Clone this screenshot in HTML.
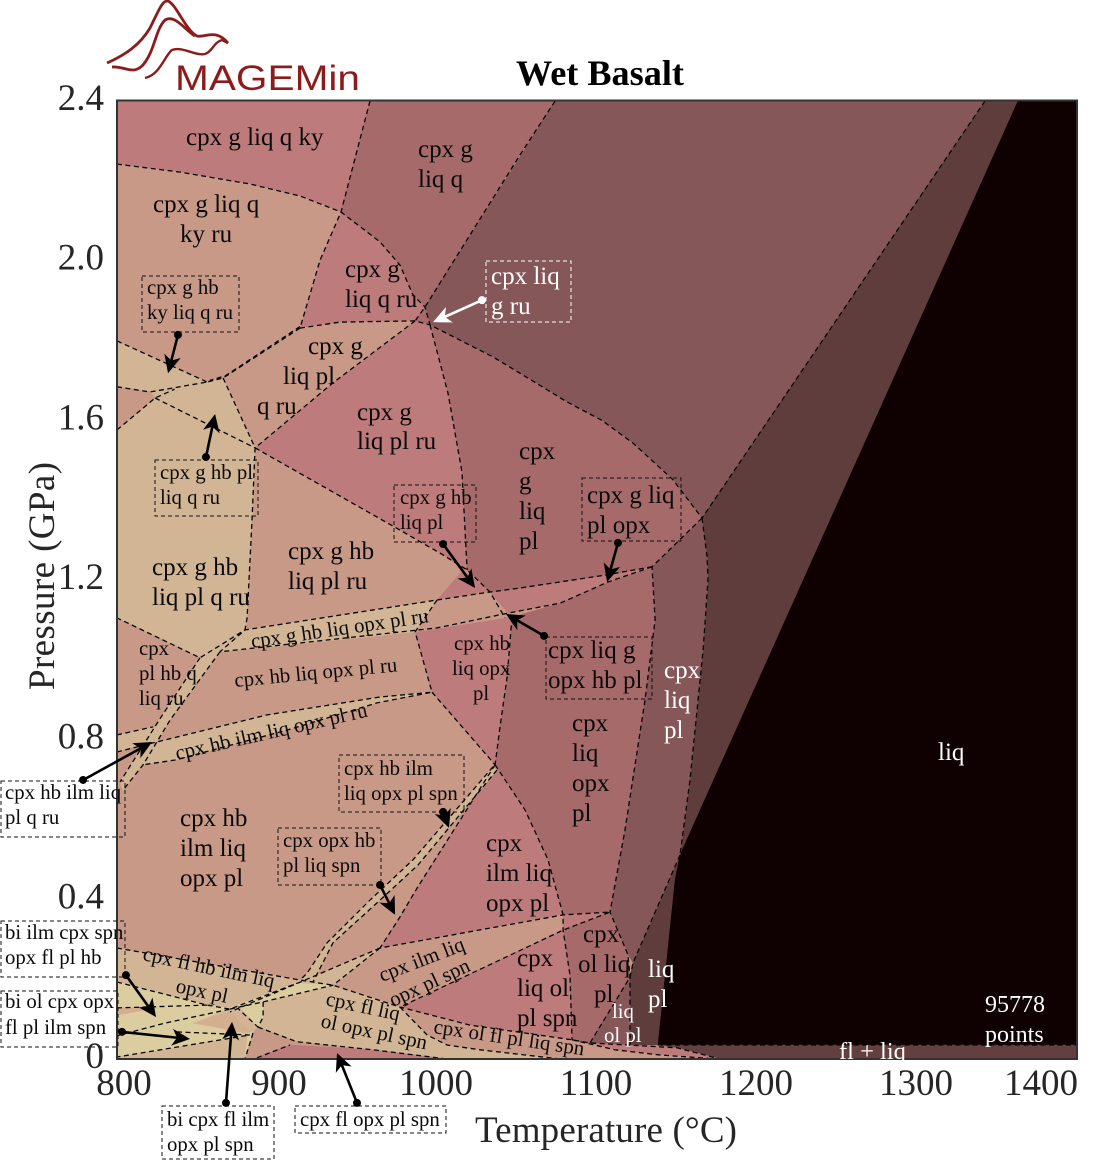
<!DOCTYPE html>
<html lang="en">
<head>
<meta charset="utf-8">
<title>Wet Basalt phase diagram</title>
<style>
html,body{margin:0;padding:0;background:#fff;}
svg{display:block;}
text{font-family:"Liberation Serif",serif;fill:#0a0a0a;}
.l{font-size:25px;}
.m{font-size:20.8px;}
.w{fill:#fff;}
.tick{font-size:37px;fill:#262626;}
.box{fill:none;stroke:#111;stroke-width:1;stroke-dasharray:4 3;shape-rendering:crispEdges;}
.boxw{fill:none;stroke:#fff;stroke-width:1;stroke-dasharray:4 3;shape-rendering:crispEdges;}
</style>
</head>
<body>
<svg id="chart" width="1094" height="1160" viewBox="0 0 1094 1160" xmlns="http://www.w3.org/2000/svg">
<g>
<path d="M107,63 C125,55 140,45 150,28 C158,12 162,1 167,1 C175,1 185,30 197,36 C205,38 215,28 228,43" fill="none" stroke="#8c1c1c" stroke-width="2.8"/>
<path d="M112,67 C125,66 132,75 142,66 C155,52 155,30 165,20 C175,14 185,30 195,36" fill="none" stroke="#8c1c1c" stroke-width="2.8"/>
<path d="M145,78 C160,75 165,55 172,50 C182,46 195,56 205,54 C212,52 214,42 222,40 L228,43" fill="none" stroke="#8c1c1c" stroke-width="2.4"/>
<text x="175" y="90" textLength="185" lengthAdjust="spacingAndGlyphs" style="font-family:'Liberation Sans',sans-serif;font-size:35px;fill:#8c1c1c;">MAGEMin</text>
</g>
<text x="516" y="85" textLength="168" lengthAdjust="spacingAndGlyphs" style="font-size:36px;font-weight:bold;fill:#000;">Wet Basalt</text>
<g id="fields"></g>
<g id="boundaries"></g>
<rect x="117" y="100.5" width="960" height="958.5" fill="none" stroke="#333" stroke-width="2"/>
<g id="ticks"></g>
<text class="tick" transform="translate(54,576) rotate(-90)" text-anchor="middle" textLength="228">Pressure (GPa)</text>
<text class="tick" x="475" y="1142" textLength="262">Temperature (°C)</text>

<g>
<text class="l" x="186" y="145">cpx g liq q ky</text>
<text class="l"><tspan x="153" y="212">cpx g liq q</tspan><tspan x="180" y="242">ky ru</tspan></text>
<text class="l"><tspan x="418" y="157">cpx g</tspan><tspan x="418" y="187">liq q</tspan></text>
<text class="l"><tspan x="345" y="277">cpx g</tspan><tspan x="345" y="307">liq q ru</tspan></text>
<text class="l"><tspan x="308" y="354">cpx g</tspan><tspan x="283" y="384">liq pl</tspan><tspan x="257" y="414">q ru</tspan></text>
<text class="l"><tspan x="357" y="420">cpx g</tspan><tspan x="357" y="449">liq pl ru</tspan></text>
<text class="l"><tspan x="519" y="459">cpx</tspan><tspan x="519" y="489">g</tspan><tspan x="519" y="519">liq</tspan><tspan x="519" y="549">pl</tspan></text>
<text class="l"><tspan x="152" y="575">cpx g hb</tspan><tspan x="152" y="605">liq pl q ru</tspan></text>
<text class="l"><tspan x="288" y="559">cpx g hb</tspan><tspan x="288" y="589">liq pl ru</tspan></text>
<text class="m"><tspan x="139" y="655">cpx</tspan><tspan x="139" y="680">pl hb q</tspan><tspan x="139" y="705">liq ru</tspan></text>
<text class="m" transform="translate(252,648) rotate(-8.3)">cpx g hb liq opx pl ru</text>
<text class="m" transform="translate(235,687) rotate(-5.5)">cpx hb liq opx pl ru</text>
<text class="m" transform="translate(177,760) rotate(-12.8)">cpx hb ilm liq opx pl ru</text>
<text class="m"><tspan x="454" y="650">cpx hb</tspan><tspan x="452" y="675">liq opx</tspan><tspan x="473" y="700">pl</tspan></text>
<text class="l"><tspan x="572" y="731">cpx</tspan><tspan x="572" y="761">liq</tspan><tspan x="572" y="791">opx</tspan><tspan x="572" y="821">pl</tspan></text>
<text class="l w"><tspan x="664" y="678">cpx</tspan><tspan x="664" y="708">liq</tspan><tspan x="664" y="738">pl</tspan></text>
<text class="l w" x="938" y="760">liq</text>
<text class="l"><tspan x="180" y="826">cpx hb</tspan><tspan x="180" y="856">ilm liq</tspan><tspan x="180" y="886">opx pl</tspan></text>
<text class="l"><tspan x="486" y="851">cpx</tspan><tspan x="486" y="881">ilm liq</tspan><tspan x="486" y="911">opx pl</tspan></text>
<text class="l"><tspan x="583" y="942">cpx</tspan><tspan x="578" y="972">ol liq</tspan><tspan x="594" y="1002">pl</tspan></text>
<text class="l"><tspan x="517" y="966">cpx</tspan><tspan x="517" y="996">liq ol</tspan><tspan x="517" y="1026">pl spn</tspan></text>
<text class="l w"><tspan x="648" y="977">liq</tspan><tspan x="648" y="1007">pl</tspan></text>
<text class="m w"><tspan x="612" y="1018">liq</tspan><tspan x="604" y="1042">ol pl</tspan></text>
<text class="m" transform="translate(382,982) rotate(-21)">cpx ilm liq</text>
<text class="m" transform="translate(393,1007) rotate(-25)">opx pl spn</text>
<text class="m" transform="translate(142,960) rotate(12)">cpx fl hb ilm liq</text>
<text class="m" transform="translate(175,992) rotate(12)">opx pl</text>
<text class="m" transform="translate(325,1005) rotate(12)">cpx fl liq</text>
<text class="m" transform="translate(320,1027) rotate(12)">ol opx pl spn</text>
<text class="m" transform="translate(433,1033) rotate(8.5)">cpx ol fl pl liq spn</text>
<text class="l w" x="839" y="1059" style="font-size:24.5px;">fl + liq</text>
<text class="l w" style="font-size:24px;"><tspan x="985" y="1012">95778</tspan><tspan x="985" y="1042">points</tspan></text>
</g>

<g>
<g><rect class="box" x="142" y="276" width="97" height="56"/><text class="m"><tspan x="147" y="294">cpx g hb</tspan><tspan x="147" y="319">ky liq q ru</tspan></text></g>
<g><rect class="boxw" x="486" y="261" width="85" height="61"/><text class="w" style="font-size:25px;"><tspan x="491" y="284">cpx liq</tspan><tspan x="491" y="314">g ru</tspan></text></g>
<g><rect class="box" x="155" y="460" width="103" height="56"/><text class="m"><tspan x="160" y="479">cpx g hb pl</tspan><tspan x="160" y="504">liq q ru</tspan></text></g>
<g><rect class="box" x="394" y="485" width="82" height="57"/><text class="m"><tspan x="400" y="504">cpx g hb</tspan><tspan x="400" y="529">liq pl</tspan></text></g>
<g><rect class="box" x="582" y="478" width="99" height="63"/><text class="l"><tspan x="587" y="503">cpx g liq</tspan><tspan x="587" y="533">pl opx</tspan></text></g>
<g><rect class="box" x="546" y="637" width="106" height="62"/><text style="font-size:25px;"><tspan x="548" y="658">cpx liq g</tspan><tspan x="548" y="688">opx hb pl</tspan></text></g>
<g><rect class="box" x="339" y="755" width="125" height="57"/><text class="m"><tspan x="344" y="775">cpx hb ilm</tspan><tspan x="344" y="800">liq opx pl spn</tspan></text></g>
<g><rect class="box" x="278" y="828" width="103" height="57"/><text class="m"><tspan x="283" y="847">cpx opx hb</tspan><tspan x="283" y="872">pl liq spn</tspan></text></g>
<g><rect class="box" x="1" y="781" width="124" height="56"/><text class="m"><tspan x="5" y="799">cpx hb ilm liq</tspan><tspan x="5" y="824">pl q ru</tspan></text></g>
<g><rect class="box" x="1" y="921" width="124" height="56"/><text class="m"><tspan x="5" y="939">bi ilm cpx spn</tspan><tspan x="5" y="964">opx fl pl hb</tspan></text></g>
<g><rect class="box" x="1" y="991" width="117" height="56"/><text class="m"><tspan x="5" y="1008">bi ol cpx opx</tspan><tspan x="5" y="1034">fl pl ilm spn</tspan></text></g>
<g><rect class="box" x="162" y="1106" width="112" height="53"/><text class="m"><tspan x="167" y="1126">bi cpx fl ilm</tspan><tspan x="167" y="1151">opx pl spn</tspan></text></g>
<g><rect class="box" x="295" y="1106" width="151" height="27"/><text class="m" x="300" y="1126">cpx fl opx pl spn</text></g>
</g>
<g id="arrows"></g>
</svg>
<script>
// Axis tick values and labels
const tempTicks = [800, 900, 1000, 1100, 1200, 1300, 1400];
const tempLabels = ['800', '900', '1000', '1100', '1200', '1300', '1400'];
const pressTicks = [0, 0.4, 0.8, 1.2, 1.6, 2.0, 2.4];
const pressLabels = ['0', '0.4', '0.8', '1.2', '1.6', '2.0', '2.4'];

// Phase fields: [temperature in C, pressure in GPa] vertices
const fieldCpxGLiqQKy = [[800,2.4],[958.1,2.4],[940,2.122],[914.4,2.162],[883.1,2.192],[839.4,2.222],[800,2.242]];
const fieldCpxGLiqQ = [[958.1,2.4],[1073.8,2.4],[1051.9,2.265],[992.5,1.884],[985,1.914],[976.9,1.989],[964.4,2.047],[940,2.122]];
const fieldCpxGLiq = [[1073.8,2.4],[1342.5,2.4],[1165.6,1.355],[1147.5,1.451],[1122.5,1.543],[1103,1.6],[1081.3,1.646],[1058,1.703],[1035,1.759],[995.6,1.839],[992.5,1.884]];
const fieldCpxLiq = [[1342.5,2.4],[1363.1,2.4],[1151.9,0.511],[1148.8,0.449],[1138.1,0.035],[1120.6,0.035],[1120.6,0.205],[1122.5,0.241],[1151.9,0.511],[1158.1,0.699],[1166.3,1.025],[1169.4,1.2],[1168.8,1.258],[1165.6,1.355]];
const fieldLiq = [[1363.1,2.4],[1400,2.4],[1400,0.035],[1138.1,0.035],[1148.8,0.449],[1151.9,0.511]];
const fieldFlLiq = [[1138.1,0.035],[1400,0.035],[1400,0],[1176.9,0],[1150,0.028]];
const fieldCpxLiqPl = [[1165.6,1.355],[1168.8,1.258],[1169.4,1.2],[1166.3,1.025],[1158.1,0.699],[1151.9,0.511],[1122.5,0.241],[1119.4,0.261],[1108.1,0.368],[1117.5,0.574],[1130,0.899],[1136.3,1.1],[1134.4,1.233]];
const fieldCpxLiqOpxPl = [[1036.3,0.737],[1039.4,0.832],[1043.8,0.957],[1046.9,1.107],[1076.9,1.142],[1106.9,1.195],[1134.4,1.233],[1136.3,1.1],[1130,0.899],[1117.5,0.574],[1108.1,0.368],[1078.8,0.361],[1069.4,0.499],[1055,0.624]];
const fieldCpxIlmLiqOpxPl = [[1036.3,0.737],[1055,0.624],[1069.4,0.499],[1078.8,0.361],[964.4,0.278],[976.9,0.356],[987.5,0.428]];
const fieldCpxIlmLiqOpxPlSpn = [[935,0.185],[964.4,0.278],[1078.8,0.361],[1078.8,0.323],[976.9,0.13]];
const fieldWedgeOpxLiq = [[1078.8,0.361],[1108.1,0.368],[1078.8,0.323]];
const fieldCpxLiqOlPlSpn = [[976.9,0.13],[1078.8,0.323],[1083.1,0.21],[1084.4,0.048],[1020.6,0.085]];
const fieldCpxOlLiqPl = [[1078.8,0.323],[1108.1,0.368],[1119.4,0.261],[1120.6,0.205],[1095.6,0.04],[1084.4,0.048],[1083.1,0.21]];
const fieldLiqOlPl = [[1120.6,0.205],[1095.6,0.04],[1120.6,0.035]];
const fieldOlPlLens = [[1084.4,0.048],[1095.6,0.04],[1118.8,0.035],[1150,0.028],[1176.9,0],[1139.4,0.01],[1111.3,0.023]];
const fieldCpxOlFlPlLiqSpn = [[976.9,0.13],[1020.6,0.085],[1084.4,0.048],[1111.3,0.023],[1139.4,0.01],[1175,0],[1076.9,0],[1026.9,0.023],[1006.3,0.035],[993.8,0.06]];
const fieldCpxHbLiqOpxPl = [[986.3,1.07],[1042.5,1.105],[1046.9,1.107],[1043.8,0.957],[1039.4,0.832],[1036.3,0.737],[996.9,0.919]];
const fieldCpxGLiqPlOpx = [[1033.1,1.17],[1051.9,1.18],[1106.3,1.213],[1134.4,1.233],[1106.9,1.195],[1076.9,1.142],[1044.4,1.117]];
const fieldCpxGLiqPl = [[995.6,1.839],[1035,1.759],[1058,1.703],[1081.3,1.646],[1103,1.6],[1122.5,1.543],[1147.5,1.451],[1165.6,1.355],[1134.4,1.233],[1106.3,1.213],[1051.9,1.18],[1033.1,1.17],[1018.8,1.225],[1015.6,1.47],[1006.9,1.668]];
const fieldCpxLiqGRu = [[992.5,1.884],[995.6,1.839],[986.3,1.849]];
const fieldCpxGLiqPlRu = [[986.3,1.849],[995.6,1.839],[1006.9,1.668],[1015.6,1.47],[1018.8,1.225],[1016.3,1.225],[1003.8,1.263],[976.9,1.325],[886.3,1.531],[935,1.694]];
const fieldCpxGLiqQRu = [[940,2.122],[964.4,2.047],[976.9,1.989],[985,1.914],[992.5,1.884],[986.3,1.849],[939.4,1.846],[914.4,1.831],[926.9,2.001]];
const fieldCpxGLiqQKyRu = [[800,2.242],[839.4,2.222],[883.1,2.192],[914.4,2.162],[940,2.122],[926.9,2.001],[914.4,1.831],[866.3,1.706],[856.3,1.696],[800,1.799]];
const fieldCpxGLiqPlQRu = [[914.4,1.831],[939.4,1.846],[986.3,1.849],[935,1.694],[886.3,1.531],[865.6,1.701]];
const fieldCpxGHbLiqPlRu = [[886.3,1.531],[976.9,1.325],[1003.8,1.263],[1016.3,1.225],[1000,1.15],[880,1.075],[881.3,1.105],[884.4,1.35]];
const fieldCpxGHbLiqPlTri = [[1016.3,1.225],[1033.1,1.17],[1000,1.15]];
const fieldPeachRightOfBand = [[1000,1.15],[1033.1,1.17],[1042.5,1.105],[986.3,1.07]];
const fieldCpxGHbLiqOpxPlRu = [[880,1.075],[1000,1.15],[986.3,1.07],[864.4,1.02]];
const fieldCpxGHbLiqPlQRu = [[800,1.799],[856.3,1.696],[866.3,1.706],[886.3,1.531],[884.4,1.35],[881.3,1.105],[880,1.075],[864.4,1.02],[851.9,1.005],[800,1.105]];
const fieldWedgeUpperLeft = [[800,1.684],[820.6,1.671],[823.8,1.656],[800,1.576]];
const fieldCpxPlHbQLiqRu = [[800,1.105],[851.9,1.005],[822.5,0.829],[800,0.812]];
const fieldDiagonalStrip = [[851.9,1.005],[864.4,1.02],[833.1,0.849],[816.3,0.737],[803.8,0.674],[801.9,0.694],[826.3,0.849]];
const fieldLeftBand = [[800,0.812],[822.5,0.832],[820.6,0.794],[800,0.769]];
const fieldCpxHbIlmLiqOpxPlRu = [[822.5,0.792],[893.8,0.862],[964.4,0.907],[995.6,0.919],[962.5,0.892],[906.3,0.824],[836.3,0.749],[816.3,0.737]];
const fieldOpxHbStrip = [[1035,0.732],[985,0.499],[958.1,0.398],[931.3,0.291],[918.8,0.215],[914.4,0.198],[922.5,0.193],[935,0.291],[962.5,0.391],[988.1,0.486],[1037.5,0.724]];
const fieldThinSpnStrip = [[964.4,0.278],[910,0.185],[935,0.183]];
const fieldLowerTan = [[800,0.278],[914.4,0.198],[935,0.185],[976.9,0.13],[993.8,0.06],[1006.3,0.035],[1026.9,0.023],[1076.9,0],[800,0]];
const fieldBiYellow = [[800,0.193],[856.3,0.135],[870.6,0.128],[847.5,0.09],[883.1,0.06],[800,0.005]];
const fieldBiYellowStrip = [[870.6,0.128],[912.5,0.19],[935,0.185],[891.3,0.143]];
const fieldBiYellowSmall = [[876.9,0.13],[891.3,0.143],[891.3,0.105],[888.1,0.08]];
const fieldBiWedgeLeft = [[800,0.128],[825,0.128],[800,0.11]];
const fieldBiWedgeMid = [[847.5,0.09],[870.6,0.118],[883.1,0.068],[866.3,0.078]];
const fieldBiSliver = [[881.9,0.065],[885,0.065],[883.1,0],[880,0]];
const fieldBottomPeach = [[888.1,0.08],[912.5,0.043],[960,0.023],[1006.3,0],[880,0],[885,0.065]];
const fieldCpxFlOpxPlSpn = [[887.5,0.003],[908.1,0.035],[960,0.023],[1006.3,0]];

// Dashed phase boundaries: [temperature, pressure] vertices
const lineKyCurve = [[800,2.242],[839.4,2.222],[883.1,2.192],[914.4,2.162],[940,2.122],[964.4,2.047],[976.9,1.989],[985,1.914],[992.5,1.884],[995.6,1.839],[1035,1.759],[1058,1.703],[1081.3,1.646],[1103,1.6],[1122.5,1.543],[1147.5,1.451],[1165.6,1.355]];
const lineKyOut = [[958.1,2.4],[940,2.122],[926.9,2.001],[914.4,1.831]];
const lineQOut = [[1073.8,2.4],[1051.9,2.265],[992.5,1.884],[986.3,1.849]];
const lineOpxIn = [[1342.5,2.4],[1165.6,1.355]];
const linePlIn = [[914.4,1.831],[939.4,1.846],[986.3,1.849],[995.6,1.839]];
const lineKyRuLower = [[914.4,1.831],[866.3,1.706],[856.3,1.696]];
const lineKyRuUpper = [[914.4,1.835],[868,1.712],[858,1.70]];
const lineKyHb = [[800,1.799],[856.3,1.696]];
const lineHbEdge = [[866.3,1.706],[886.3,1.531],[884.4,1.35],[881.3,1.105],[880,1.075],[864.4,1.02]];
const lineWedgeTop = [[800,1.684],[820.6,1.671],[856.3,1.696]];
const lineWedgeLow = [[800,1.576],[823.8,1.656],[836,1.678]];
const lineHbPl = [[823.8,1.656],[886.3,1.531]];
const lineQRu = [[986.3,1.849],[935,1.694],[886.3,1.531]];
const lineHbOut = [[886.3,1.531],[976.9,1.325],[1003.8,1.263],[1018.8,1.225],[1033.1,1.17],[1042.5,1.105]];
const lineRuOut = [[995.6,1.839],[1006.9,1.668],[1015.6,1.47],[1018.8,1.225]];
const lineGOut = [[1165.6,1.355],[1168.8,1.258],[1169.4,1.2],[1166.3,1.025],[1158.1,0.699],[1151.9,0.511]];
const lineOpxOut = [[1165.6,1.355],[1134.4,1.233],[1136.3,1.1],[1130,0.899],[1117.5,0.574],[1108.1,0.368],[1119.4,0.261],[1120.6,0.205],[1120.6,0.035]];
const lineCpxOut = [[1151.9,0.511],[1122.5,0.241],[1120.6,0.205],[1095.6,0.04]];
const lineOpxUpper = [[1134.4,1.233],[1106.3,1.213],[1051.9,1.18],[1033.1,1.17],[1000,1.15],[880,1.075],[851.9,1.005],[800,1.105]];
const lineOpxLower = [[1134.4,1.233],[1106.9,1.195],[1076.9,1.142],[1044.4,1.117],[1000,1.08],[864.4,1.02]];
const lineBandRight = [[1000,1.15],[986.3,1.07],[996.9,0.919]];
const lineHbOutLow = [[1046.9,1.107],[1043.8,0.957],[1039.4,0.832],[1036.3,0.737]];
const lineRuIlm = [[996.9,0.919],[1036.3,0.737]];
const lineIlmHb = [[1036.3,0.737],[1055,0.624],[1069.4,0.499],[1078.8,0.361],[1078.8,0.323],[1083.1,0.21],[1084.4,0.048]];
const lineSpnIn = [[1036.3,0.737],[987.5,0.428],[976.9,0.356],[964.4,0.278],[1078.8,0.361],[1108.1,0.368],[1078.8,0.323],[976.9,0.13]];
const lineStripLeft = [[1035,0.732],[985,0.499],[958.1,0.398],[931.3,0.291],[918.8,0.215],[914.4,0.198]];
const lineStripRight = [[1037.5,0.724],[988.1,0.486],[962.5,0.391],[935,0.291],[922.5,0.193]];
const lineThinA = [[964.4,0.278],[935,0.185]];
const lineThinB = [[964.4,0.278],[910,0.185],[870.6,0.118]];
const lineLeftBandTop = [[800,0.812],[822.5,0.832]];
const lineRuBand = [[800,0.769],[822.5,0.792],[893.8,0.862],[964.4,0.907],[996.9,0.919],[962.5,0.892],[906.3,0.824],[836.3,0.749],[816.3,0.737]];
const lineDiagRight = [[864.4,1.02],[833.1,0.849],[816.3,0.737],[803.8,0.674]];
const lineDiagLeft = [[851.9,1.005],[826.3,0.849],[801.9,0.694]];
const lineFlIn = [[800,0.278],[914.4,0.198],[935,0.185],[976.9,0.13],[1020.6,0.085],[1084.4,0.048],[1095.6,0.04],[1118.8,0.035],[1150,0.028],[1176.9,0]];
const lineOlLens = [[1084.4,0.048],[1111.3,0.023],[1139.4,0.01],[1175,0]];
const lineTanEdge = [[976.9,0.13],[993.8,0.06],[1006.3,0.035],[1026.9,0.023],[1076.9,0]];
const lineFlLiqTop = [[1138.1,0.035],[1400,0.035]];
const lineBiA = [[800,0.193],[856.3,0.135],[870.6,0.125]];
const lineBiB = [[800,0.128],[856.3,0.135]];
const lineBiC = [[800,0.058],[830,0.09],[870.6,0.125],[912.5,0.19]];
const lineBiD = [[837.5,0.068],[883,0.06],[800,0.005]];
const lineBiE = [[870.6,0.125],[891.3,0.143],[935,0.185]];
const lineBiF = [[891.3,0.143],[891.3,0.105],[888.1,0.08],[876,0.125]];
const lineBiG = [[888.1,0.08],[912.5,0.043],[960,0.023],[1006.3,0],[1076.9,0]];
const lineBiH = [[885,0.065],[880,0]];
const lineBiI = [[887.5,0.003],[908.1,0.035]];

// Callout arrows anchored in data space: [T from, P from, T to, P to]
const arrowKyLiqQRu = [838.1,1.814,831.9,1.718];
const arrowCpxLiqGRu = [1028.1,1.901,997.5,1.846];
const arrowHbPlLiqQRu = [855.6,1.508,861.3,1.616];
const arrowHbLiqPl = [1003.8,1.29,1023.8,1.18];
const arrowGLiqPlOpx = [1113.1,1.293,1106.3,1.195];
const arrowLiqGOpxHbPl = [1066.9,1.06,1043.1,1.115];
const arrowHbIlmSpn = [1003.8,0.619,1007.5,0.579];
const arrowOpxHbSpn = [964.4,0.436,973.8,0.361];
const arrowHbIlmQRu = [778.8,0.699,821.9,0.794];
const arrowBiIlmHb = [805.6,0.21,824.4,0.105];
const arrowBiOlIlm = [803.1,0.068,845.6,0.05];
const arrowBiFlIlm = [868.1,-0.11,871.9,0.093];
const arrowFlOpx = [950,-0.11,937.5,0.015];

const NS = 'http://www.w3.org/2000/svg';
const PLOT_LEFT = 117, PLOT_RIGHT = 1077, PLOT_TOP = 101, PLOT_BOTTOM = 1059;
const T_MIN = 800, T_MAX = 1400, P_MIN = 0, P_MAX = 2.4;
function xScale(t) { return PLOT_LEFT + (t - T_MIN) / (T_MAX - T_MIN) * (PLOT_RIGHT - PLOT_LEFT); }
function yScale(p) { return PLOT_BOTTOM - (p - P_MIN) / (P_MAX - P_MIN) * (PLOT_BOTTOM - PLOT_TOP); }
function toPoints(verts) { return verts.map(function (v) { return xScale(v[0]).toFixed(1) + ',' + yScale(v[1]).toFixed(1); }).join(' '); }

const ROSE = '#bd7b7b', PEACH = '#c89987', DUSK = '#a56a69', MAUVE = '#865758', UMBER = '#5f3d3d', NIGHT = '#0f0002', TAN = '#d2b595', CREAM = '#dccda1';
const fieldsG = document.getElementById('fields');
const boundariesG = document.getElementById('boundaries');
const ticksG = document.getElementById('ticks');
const arrowsG = document.getElementById('arrows');

function drawField(verts, fill, name) {
  const el = document.createElementNS(NS, 'polygon');
  el.setAttribute('points', toPoints(verts));
  el.setAttribute('fill', fill);
  el.setAttribute('stroke', fill);
  el.setAttribute('stroke-width', '0.5');
  
  
  fieldsG.appendChild(el);
}
function drawBoundary(verts, name) {
  const el = document.createElementNS(NS, 'polyline');
  el.setAttribute('points', toPoints(verts));
  el.setAttribute('fill', 'none');
  el.setAttribute('stroke', '#050505');
  el.setAttribute('stroke-width', '1.3');
  el.setAttribute('stroke-dasharray', '5 3.5');
  
  
  boundariesG.appendChild(el);
}
function drawArrow(a, color, name) {
  const x1 = xScale(a[0]), y1 = yScale(a[1]), x2 = xScale(a[2]), y2 = yScale(a[3]);
  const d = Math.hypot(x2 - x1, y2 - y1), ux = (x2 - x1) / d, uy = (y2 - y1) / d;
  const g = document.createElementNS(NS, 'g');
  
  
  const line = document.createElementNS(NS, 'line');
  line.setAttribute('x1', x1);
  line.setAttribute('y1', y1);
  line.setAttribute('x2', x2 - ux * 10);
  line.setAttribute('y2', y2 - uy * 10);
  line.setAttribute('stroke', color);
  line.setAttribute('stroke-width', '2.6');
  g.appendChild(line);
  const dot = document.createElementNS(NS, 'circle');
  dot.setAttribute('cx', x1);
  dot.setAttribute('cy', y1);
  dot.setAttribute('r', '4');
  dot.setAttribute('fill', color);
  g.appendChild(dot);
  const head = document.createElementNS(NS, 'polygon');
  const bx = x2 - ux * 18, by = y2 - uy * 18, nx = x2 - ux * 13, ny = y2 - uy * 13;
  head.setAttribute('points', x2 + ',' + y2 + ' ' + (bx - uy * 8.5) + ',' + (by + ux * 8.5) + ' ' + nx + ',' + ny + ' ' + (bx + uy * 8.5) + ',' + (by - ux * 8.5));
  head.setAttribute('fill', color);
  g.appendChild(head);
  arrowsG.appendChild(g);
}

// Background field then phase fields in painter's order
const plotBackground = [[T_MIN,P_MAX],[T_MAX,P_MAX],[T_MAX,P_MIN],[T_MIN,P_MIN]];
drawField(plotBackground, PEACH, 'field-background');
drawField(fieldCpxGLiqQKy, ROSE, 'field-cpx-g-liq-q-ky');
drawField(fieldCpxGLiqQ, DUSK, 'field-cpx-g-liq-q');
drawField(fieldCpxGLiq, MAUVE, 'field-cpx-g-liq');
drawField(fieldCpxLiq, UMBER, 'field-cpx-liq');
drawField(fieldLiq, NIGHT, 'field-liq');
drawField(fieldFlLiq, '#63403f', 'field-fl-liq');
drawField(fieldCpxLiqPl, MAUVE, 'field-cpx-liq-pl');
drawField(fieldCpxLiqOpxPl, DUSK, 'field-cpx-liq-opx-pl');
drawField(fieldCpxIlmLiqOpxPl, ROSE, 'field-cpx-ilm-liq-opx-pl');
drawField(fieldCpxIlmLiqOpxPlSpn, PEACH, 'field-cpx-ilm-liq-opx-pl-spn');
drawField(fieldWedgeOpxLiq, ROSE, 'field-wedge-opx-liq');
drawField(fieldCpxLiqOlPlSpn, ROSE, 'field-cpx-liq-ol-pl-spn');
drawField(fieldCpxOlLiqPl, DUSK, 'field-cpx-ol-liq-pl');
drawField(fieldLiqOlPl, MAUVE, 'field-liq-ol-pl');
drawField(fieldOlPlLens, ROSE, 'field-ol-pl-lens');
drawField(fieldCpxOlFlPlLiqSpn, PEACH, 'field-cpx-ol-fl-pl-liq-spn');
drawField(fieldCpxHbLiqOpxPl, ROSE, 'field-cpx-hb-liq-opx-pl');
drawField(fieldCpxGLiqPlOpx, ROSE, 'field-cpx-g-liq-pl-opx');
drawField(fieldCpxGLiqPl, DUSK, 'field-cpx-g-liq-pl');
drawField(fieldCpxLiqGRu, DUSK, 'field-cpx-liq-g-ru');
drawField(fieldCpxGLiqPlRu, ROSE, 'field-cpx-g-liq-pl-ru');
drawField(fieldCpxGLiqQRu, ROSE, 'field-cpx-g-liq-q-ru');
drawField(fieldCpxGLiqQKyRu, PEACH, 'field-cpx-g-liq-q-ky-ru');
drawField(fieldCpxGLiqPlQRu, PEACH, 'field-cpx-g-liq-pl-q-ru');
drawField(fieldCpxGHbLiqPlRu, PEACH, 'field-cpx-g-hb-liq-pl-ru');
drawField(fieldCpxGHbLiqPlTri, ROSE, 'field-cpx-g-hb-liq-pl');
drawField(fieldPeachRightOfBand, PEACH, 'field-cpx-hb-liq-opx-pl-upper');
drawField(fieldCpxGHbLiqOpxPlRu, TAN, 'field-cpx-g-hb-liq-opx-pl-ru');
drawField(fieldCpxGHbLiqPlQRu, TAN, 'field-cpx-g-hb-liq-pl-q-ru');
drawField(fieldWedgeUpperLeft, PEACH, 'field-wedge-upper-left');
drawField(fieldCpxPlHbQLiqRu, PEACH, 'field-cpx-pl-hb-q-liq-ru');
drawField(fieldDiagonalStrip, TAN, 'field-cpx-hb-ilm-liq-pl-q-ru');
drawField(fieldLeftBand, TAN, 'field-left-band');
drawField(fieldCpxHbIlmLiqOpxPlRu, TAN, 'field-cpx-hb-ilm-liq-opx-pl-ru');
drawField(fieldOpxHbStrip, TAN, 'field-cpx-hb-ilm-liq-opx-pl-spn');
drawField(fieldThinSpnStrip, TAN, 'field-thin-spn-strip');
drawField(fieldLowerTan, TAN, 'field-lower-tan');
drawField(fieldBiYellow, CREAM, 'field-bi-ol-cpx-opx-fl-pl-ilm-spn');
drawField(fieldBiYellowStrip, CREAM, 'field-bi-strip');
drawField(fieldBiYellowSmall, CREAM, 'field-bi-cpx-fl-ilm-opx-pl-spn');
drawField(fieldBiWedgeLeft, '#d3ae8f', 'field-bi-wedge-left');
drawField(fieldBiWedgeMid, '#d3ae8f', 'field-bi-wedge-mid');
drawField(fieldBiSliver, CREAM, 'field-bi-sliver');
drawField(fieldBottomPeach, PEACH, 'field-bottom-peach');
drawField(fieldCpxFlOpxPlSpn, ROSE, 'field-cpx-fl-opx-pl-spn');

// Dashed boundaries
drawBoundary(lineKyCurve, 'boundary-ky-curve');
drawBoundary(lineKyOut, 'boundary-ky-out');
drawBoundary(lineQOut, 'boundary-q-out');
drawBoundary(lineOpxIn, 'boundary-opx-in');
drawBoundary(linePlIn, 'boundary-pl-in');
drawBoundary(lineKyRuLower, 'boundary-ky-ru-lower');
drawBoundary(lineKyRuUpper, 'boundary-ky-ru-upper');
drawBoundary(lineKyHb, 'boundary-ky-hb');
drawBoundary(lineHbEdge, 'boundary-hb-edge');
drawBoundary(lineWedgeTop, 'boundary-wedge-top');
drawBoundary(lineWedgeLow, 'boundary-wedge-low');
drawBoundary(lineHbPl, 'boundary-hb-pl');
drawBoundary(lineQRu, 'boundary-q-ru');
drawBoundary(lineHbOut, 'boundary-hb-out');
drawBoundary(lineRuOut, 'boundary-ru-out');
drawBoundary(lineGOut, 'boundary-g-out');
drawBoundary(lineOpxOut, 'boundary-opx-out');
drawBoundary(lineCpxOut, 'boundary-cpx-out');
drawBoundary(lineOpxUpper, 'boundary-opx-upper');
drawBoundary(lineOpxLower, 'boundary-opx-lower');
drawBoundary(lineBandRight, 'boundary-band-right');
drawBoundary(lineHbOutLow, 'boundary-hb-out-low');
drawBoundary(lineRuIlm, 'boundary-ru-ilm');
drawBoundary(lineIlmHb, 'boundary-ilm-hb');
drawBoundary(lineSpnIn, 'boundary-spn-in');
drawBoundary(lineStripLeft, 'boundary-strip-left');
drawBoundary(lineStripRight, 'boundary-strip-right');
drawBoundary(lineThinA, 'boundary-thin-a');
drawBoundary(lineThinB, 'boundary-thin-b');
drawBoundary(lineLeftBandTop, 'boundary-left-band-top');
drawBoundary(lineRuBand, 'boundary-ru-band');
drawBoundary(lineDiagRight, 'boundary-diagonal-right');
drawBoundary(lineDiagLeft, 'boundary-diagonal-left');
drawBoundary(lineFlIn, 'boundary-fl-in');
drawBoundary(lineOlLens, 'boundary-ol-lens');
drawBoundary(lineTanEdge, 'boundary-tan-edge');
drawBoundary(lineFlLiqTop, 'boundary-fl-liq-top');
drawBoundary(lineBiA, 'boundary-bi-a');
drawBoundary(lineBiB, 'boundary-bi-b');
drawBoundary(lineBiC, 'boundary-bi-c');
drawBoundary(lineBiD, 'boundary-bi-d');
drawBoundary(lineBiE, 'boundary-bi-e');
drawBoundary(lineBiF, 'boundary-bi-f');
drawBoundary(lineBiG, 'boundary-bi-g');
drawBoundary(lineBiH, 'boundary-bi-h');
drawBoundary(lineBiI, 'boundary-bi-i');

// Tick labels
tempTicks.forEach(function (t, i) {
  const el = document.createElementNS(NS, 'text');
  let shift = -1;
  if (i === 0) shift = 7;
  if (i === 1) shift = 2;
  if (i === tempTicks.length - 1) shift = -36;
  el.setAttribute('x', xScale(t) + shift);
  el.setAttribute('y', 1095);
  el.setAttribute('text-anchor', 'middle');
  el.setAttribute('class', 'tick');
  
  
  el.textContent = tempLabels[i];
  ticksG.appendChild(el);
});
pressTicks.forEach(function (p, i) {
  const el = document.createElementNS(NS, 'text');
  el.setAttribute('x', 104);
  el.setAttribute('y', yScale(p) + 9);
  el.setAttribute('text-anchor', 'end');
  el.setAttribute('class', 'tick');
  
  
  el.textContent = pressLabels[i];
  ticksG.appendChild(el);
});

// Arrows
drawArrow(arrowKyLiqQRu, '#000', 'arrow-cpx-g-hb-ky-liq-q-ru');
drawArrow(arrowCpxLiqGRu, '#fff', 'arrow-cpx-liq-g-ru');
drawArrow(arrowHbPlLiqQRu, '#000', 'arrow-cpx-g-hb-pl-liq-q-ru');
drawArrow(arrowHbLiqPl, '#000', 'arrow-cpx-g-hb-liq-pl');
drawArrow(arrowGLiqPlOpx, '#000', 'arrow-cpx-g-liq-pl-opx');
drawArrow(arrowLiqGOpxHbPl, '#000', 'arrow-cpx-liq-g-opx-hb-pl');
drawArrow(arrowHbIlmSpn, '#000', 'arrow-cpx-hb-ilm-liq-opx-pl-spn');
drawArrow(arrowOpxHbSpn, '#000', 'arrow-cpx-opx-hb-pl-liq-spn');
drawArrow(arrowHbIlmQRu, '#000', 'arrow-cpx-hb-ilm-liq-pl-q-ru');
drawArrow(arrowBiIlmHb, '#000', 'arrow-bi-ilm-cpx-spn-opx-fl-pl-hb');
drawArrow(arrowBiOlIlm, '#000', 'arrow-bi-ol-cpx-opx-fl-pl-ilm-spn');
drawArrow(arrowBiFlIlm, '#000', 'arrow-bi-cpx-fl-ilm-opx-pl-spn');
drawArrow(arrowFlOpx, '#000', 'arrow-cpx-fl-opx-pl-spn');
</script>
</body>
</html>
